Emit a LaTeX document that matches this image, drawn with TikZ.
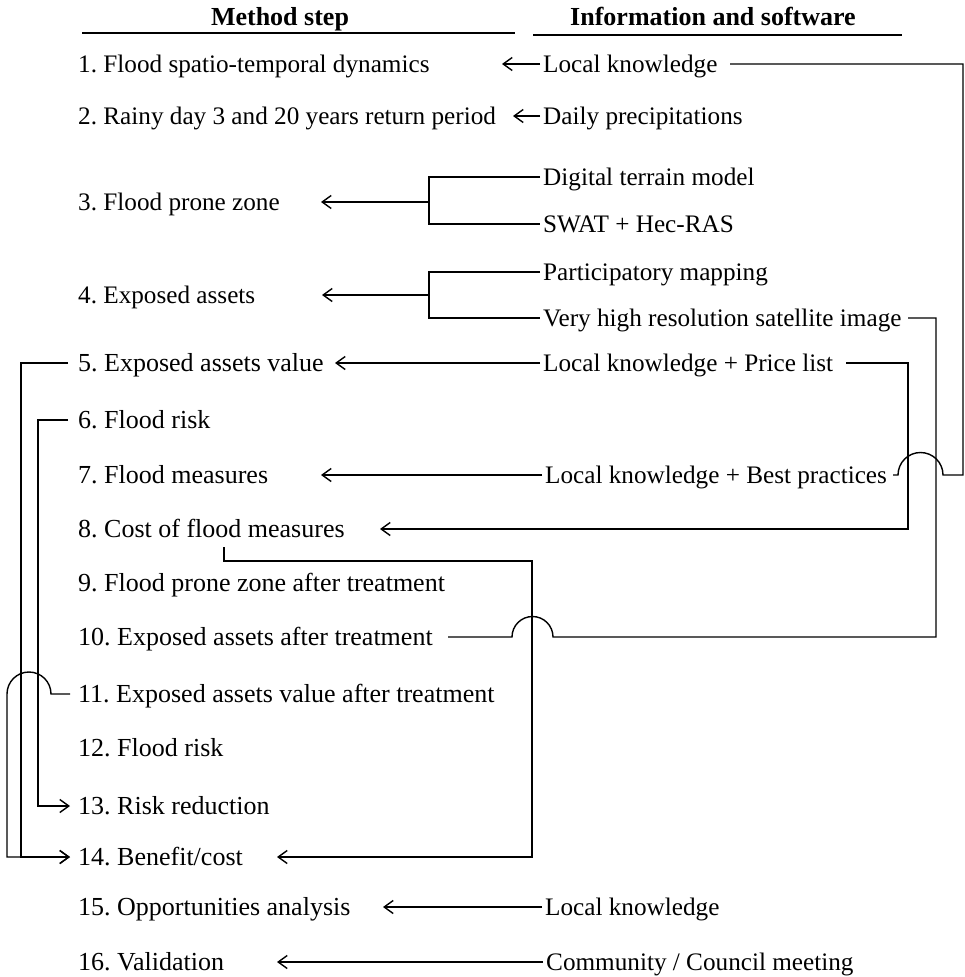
\documentclass[tikz,border=0pt]{standalone}
\usepackage{fontspec}
\setmainfont{Liberation Serif}
\usetikzlibrary{arrows.meta}
\begin{document}
\frenchspacing
\begin{tikzpicture}[x=1pt,y=-1pt,
  txt/.style={inner sep=0pt, text height=17pt, text depth=0pt, font=\fontsize{25.2}{30}\selectfont},
  stepnode/.style={txt, anchor=west},
  steplow/.style={stepnode, font=\fontsize{26}{30}\selectfont},
  infonode/.style={txt, anchor=west},
  headnode/.style={inner sep=0pt, text height=18pt, text depth=0pt, font=\fontsize{26}{30}\selectfont\bfseries},
  conn/.style={line width=1.4pt, line join=miter},
  arr/.style={conn, -{Straight Barb[length=9pt,width=13pt]}},
]
\useasboundingbox (0,0) rectangle (965,977);

% headers
\node[headnode] (h1) at (280,16) {Method step};
\node[headnode] (h2) at (713,16) {Information and software};
\draw[conn] (82,33) -- (515,33);
\draw[conn] (533,35) -- (902,35);

% method steps
\node[stepnode] (s1)  at (78,64)  {1. Flood spatio-temporal dynamics};
\node[stepnode] (s2)  at (78,116) {2. Rainy day 3 and 20 years return period};
\node[stepnode] (s3)  at (78,202) {3. Flood prone zone};
\node[stepnode] (s4)  at (78,295) {4. Exposed assets};
\node[steplow] (s5)  at (78,363) {5. Exposed assets value};
\node[steplow] (s6)  at (78,420) {6. Flood risk};
\node[steplow] (s7)  at (78,475) {7. Flood measures};
\node[steplow] (s8)  at (78,529) {8. Cost of flood measures};
\node[steplow] (s9)  at (78,583) {9. Flood prone zone after treatment};
\node[steplow] (s10) at (78,637) {10. Exposed assets after treatment};
\node[steplow] (s11) at (78,694) {11. Exposed assets value after treatment};
\node[steplow] (s12) at (78,748) {12. Flood risk};
\node[steplow] (s13) at (78,806) {13. Risk reduction};
\node[steplow] (s14) at (78,857) {14. Benefit/cost};
\node[steplow] (s15) at (78,907) {15. Opportunities analysis};
\node[steplow] (s16) at (78,962) {16. Validation};

% information and software
\node[infonode] (i1)  at (543,64)  {Local knowledge};
\node[infonode] (i2)  at (543,116) {Daily precipitations};
\node[infonode] (i3a) at (543,177) {Digital terrain model};
\node[infonode] (i3b) at (543,224) {SWAT + Hec-RAS};
\node[infonode] (i4a) at (543,272) {Participatory mapping};
\node[infonode] (i4b) at (543,318) {Very high resolution satellite image};
\node[infonode] (i5)  at (543,363) {Local knowledge + Price list};
\node[infonode] (i7)  at (545,475) {Local knowledge + Best practices};
\node[infonode] (i15) at (545,907) {Local knowledge};
\node[infonode] (i16) at (546,962) {Community / Council meeting};

% bracket junctions and start points
\coordinate (b3) at (429,202);
\coordinate (b4) at (429,295);
\coordinate (c8) at (224,547);

% straight arrows
\draw[arr] ([xshift=-3pt]i1.west) -- ([xshift=424pt]s1.west);
\draw[arr] ([xshift=-3pt]i2.west) -- ([xshift=435pt]s2.west);
\draw[conn] ([xshift=-3pt]i3a.west) -| (b3) |- ([xshift=-3pt]i3b.west);
\draw[arr] (b3) -- ([xshift=243pt]s3.west);
\draw[conn] ([xshift=-3pt]i4a.west) -| (b4) |- ([xshift=-3pt]i4b.west);
\draw[arr] (b4) -- ([xshift=244pt]s4.west);
\draw[arr] ([xshift=-3pt]i5.west) -- ([xshift=257pt]s5.west);
\draw[arr] ([xshift=-3pt]i7.west) -- ([xshift=243pt]s7.west);
\draw[arr] ([xshift=-3pt]i15.west) -- ([xshift=305pt]s15.west);
\draw[arr] ([xshift=-3pt]i16.west) -- ([xshift=199pt]s16.west);

% right-side routed connectors
\draw[conn] ([xshift=187pt]i1.west) -- (963,64) -- (963,475) -- (943,475)
  arc[start angle=0, end angle=-180, radius=22.5] -- ([xshift=348pt]i7.west);
\draw[arr] ([xshift=303pt]i5.west) -- (908,363) -- (908,529) -- ([xshift=302pt]s8.west);
\draw[conn] ([xshift=365pt]i4b.west) -- (936,318) -- (936,637) -- (553,637)
  arc[start angle=0, end angle=-180, radius=20.5] -- ([xshift=370pt]s10.west);
\draw[arr] (c8) -- (224,561) -- (532,561) -- (532,857) -- ([xshift=199pt]s14.west);

% left-side routed connectors
\draw[arr] ([xshift=-10pt]s5.west) -- (21,363) -- (21,857) -- ([xshift=-8pt]s14.west);
\draw[arr] ([xshift=-10pt]s6.west) -- (38,420) -- (38,806) -- ([xshift=-8pt]s13.west);
\draw[arr] ([xshift=-8pt]s11.west) -- (51,694)
  arc[start angle=0, end angle=-180, radius=22] -- (7,857) -- ([xshift=-8pt]s14.west);
\end{tikzpicture}
\end{document}
